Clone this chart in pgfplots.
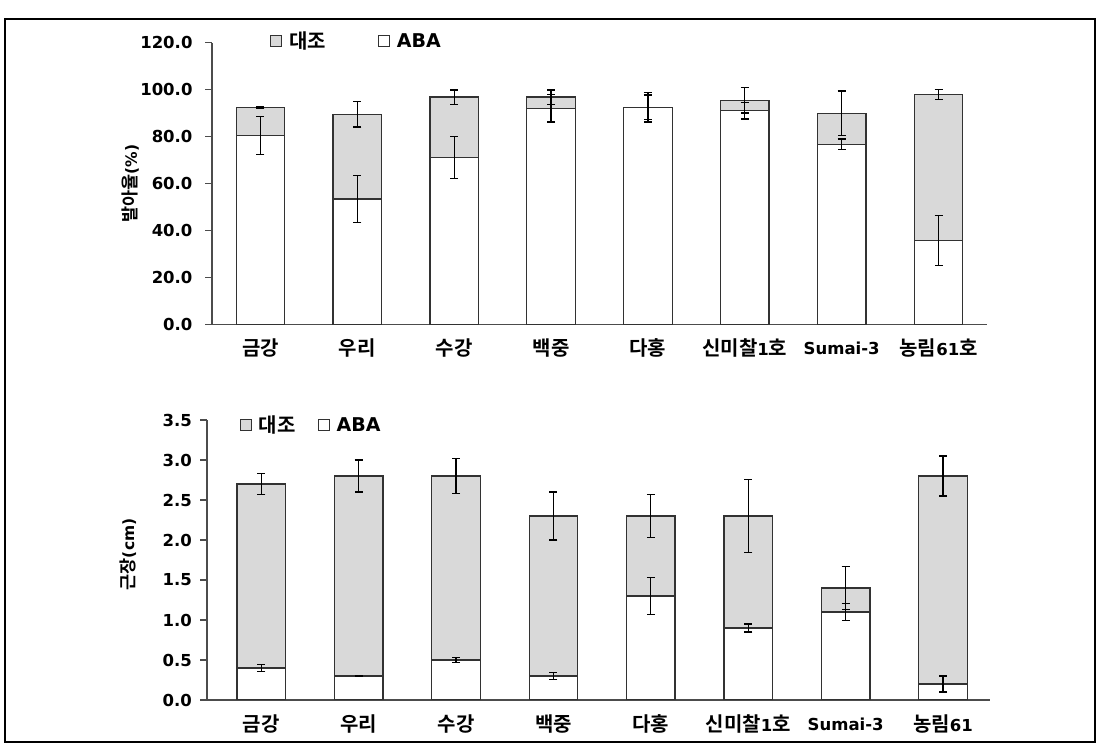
\documentclass[border=0pt]{standalone}
\usepackage{pgfplots}
\pgfplotsset{compat=1.18}
\usepackage{fontspec}
\setmainfont{DejaVu Sans}
\newfontfamily\kr{Noto Sans CJK KR}[BoldFont={Noto Sans CJK KR Bold}]
\definecolor{cgray}{RGB}{217,217,217}
\definecolor{bord}{RGB}{50,50,50}
\newcommand\K[1]{{\fontsize{20}{22}\selectfont\kr\bfseries #1}}
\newcommand\KL[1]{{\fontsize{17.5}{19}\selectfont\kr\bfseries #1}}
\pgfplotstableread{
x c ce a ae
0 92.5 0.3 80.5 8.2
1 89.5 5.4 53.4 9.9
2 96.8 3.0 71.1 8.9
3 96.8 3.0 92.0 5.8
4 92.5 5.2 92.5 6.3
5 95.4 5.4 91.0 3.5
6 89.9 9.5 76.7 2.3
7 97.8 2.1 35.6 10.6
}\topdata
\pgfplotstableread{
x c ce a ae
0 2.70 0.13 0.40 0.04
1 2.80 0.20 0.30 0.005
2 2.80 0.22 0.50 0.03
3 2.30 0.30 0.30 0.04
4 2.30 0.27 1.30 0.23
5 2.30 0.46 0.90 0.05
6 1.40 0.27 1.10 0.11
7 2.80 0.25 0.20 0.10
}\botdata
\pgfplotsset{
  mybars/.style={
    scale only axis,
    anchor=south west,
    axis lines*=left,
    axis line style={draw=black!70, line width=1.3pt},
    xtick=data,
    xtick style={draw=none},
    ytick style={draw=black!70, line width=1.1pt},
    tick align=outside,
    major tick length=7pt,
    xticklabel style={anchor=center, yshift=-17pt, font=\fontsize{16.5}{18}\selectfont\bfseries},
    yticklabel style={anchor=east, font=\fontsize{16.5}{18}\selectfont\bfseries},
    /pgf/number format/assume math mode=true,
    /pgf/number format/.cd, fixed, fixed zerofill, precision=1,
    /pgfplots/.cd,
    ylabel style={at={(axis description cs:-0.105,0.5)}, anchor=center, font=\fontsize{15.5}{17}\selectfont\bfseries},
    legend style={draw=none, fill=none, inner xsep=0pt, inner ysep=0pt,
      font=\fontsize{19}{21}\selectfont\bfseries, anchor=west,
      legend columns=2, nodes={inner xsep=0pt},
      /tikz/every odd column/.append style={column sep=7pt}},
    legend cell align=left,
  },
  barc/.style={ybar, bar width=48.5pt, bar shift=0pt, fill=cgray, draw=bord, line width=1.3pt, forget plot},
  bara/.style={ybar, bar width=48.5pt, bar shift=0pt, fill=white, draw=bord, line width=1.3pt, forget plot,
    error bars/.cd, y dir=both, y explicit,
    error bar style={draw=black, line width=1.2pt},
    error mark options={draw=black, line width=1.2pt, mark size=4pt, rotate=90}},
  erronly/.style={draw=none, mark=none, forget plot,
    error bars/.cd, y dir=both, y explicit,
    error bar style={draw=black, line width=1.2pt, solid},
    error mark options={draw=black, line width=1.2pt, mark size=4pt, rotate=90}},
}
\begin{document}
\begin{tikzpicture}[x=1pt,y=1pt]
\useasboundingbox (0,0) rectangle (1105,746);
\draw[line width=1.2pt] (5,4) rectangle (1095,727);
% top
\begin{axis}[mybars,
  at={(212pt,421.7pt)}, width=775pt, height=281.6pt,
  xmin=-0.5, xmax=7.5, ymin=0, ymax=120, ytick={0,20,...,120},
  yticklabel style={xshift=-9pt},
  xticklabels={\K{금강},\K{우리},\K{수강},\K{백중},\K{다홍},\K{신미찰}1\K{호},Sumai-3,\K{농림}61\K{호}},
  ylabel={\KL{발아율}(\%)},
  legend style={at={(axis description cs:0.075,1.006)}, /tikz/every even column/.append style={column sep=52pt}},
]
\addplot[barc] table[x=x,y=c] {\topdata};
\addplot[bara] table[x=x,y=a,y error=ae] {\topdata};
\addplot[erronly] table[x=x,y=c,y error=ce] {\topdata};
\addlegendimage{legend image code/.code={\draw[fill=cgray, draw=bord, line width=0.9pt] (0pt,-5.5pt) rectangle (11pt,5.5pt);}}
\addlegendentry{\K{대조}}
\addlegendimage{legend image code/.code={\draw[fill=white, draw=bord, line width=0.9pt] (0pt,-5.5pt) rectangle (11pt,5.5pt);}}
\addlegendentry{ABA}
\end{axis}
% bottom
\begin{axis}[mybars,
  at={(207pt,46pt)}, width=783pt, height=280pt,
  xmin=-0.557, xmax=7.482, ymin=0, ymax=3.5, ytick={0,0.5,...,3.5},
  yticklabel style={xshift=-4.5pt},
  xticklabels={\K{금강},\K{우리},\K{수강},\K{백중},\K{다홍},\K{신미찰}1\K{호},Sumai-3,\K{농림}61},
  ylabel={\KL{근장}(cm)},
  ylabel style={at={(axis description cs:-0.101,0.52)}},
  legend style={at={(axis description cs:0.042,0.981)}, /tikz/every even column/.append style={column sep=22pt}},
]
\addplot[barc] table[x=x,y=c] {\botdata};
\addplot[bara] table[x=x,y=a,y error=ae] {\botdata};
\addplot[erronly] table[x=x,y=c,y error=ce] {\botdata};
\addlegendimage{legend image code/.code={\draw[fill=cgray, draw=bord, line width=0.9pt] (0pt,-5.5pt) rectangle (11pt,5.5pt);}}
\addlegendentry{\K{대조}}
\addlegendimage{legend image code/.code={\draw[fill=white, draw=bord, line width=0.9pt] (0pt,-5.5pt) rectangle (11pt,5.5pt);}}
\addlegendentry{ABA}
\end{axis}
\end{tikzpicture}
\end{document}
